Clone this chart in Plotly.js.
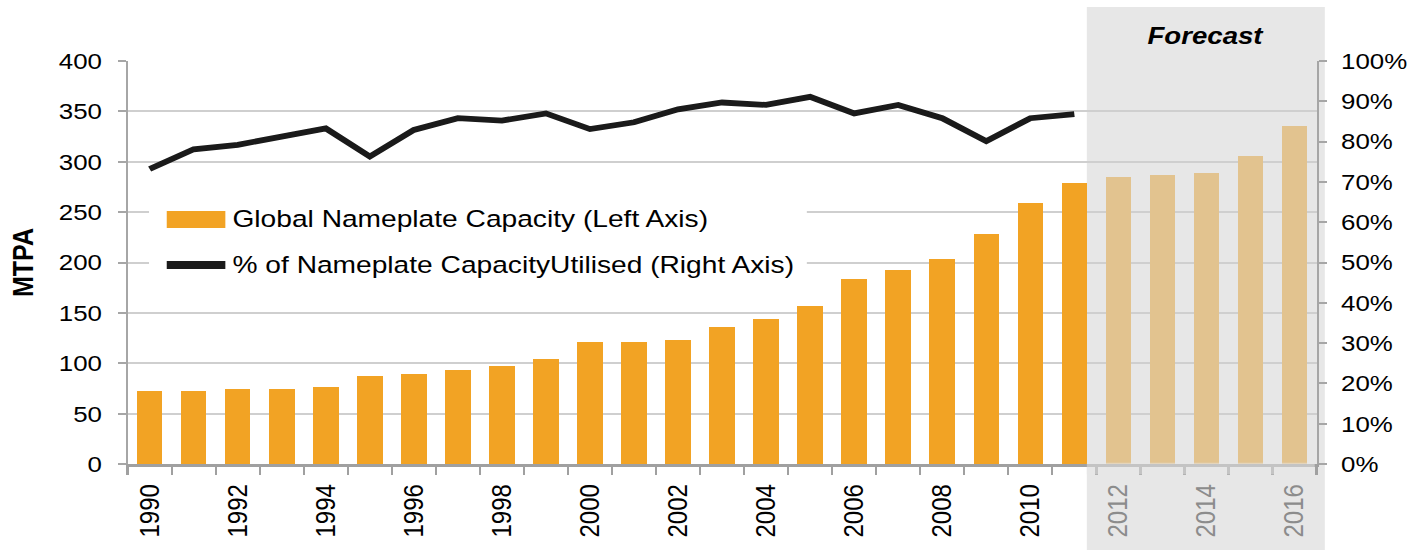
<!DOCTYPE html>
<html>
<head>
<meta charset="utf-8">
<script src="https://cdn.plot.ly/plotly-3.0.1.min.js"></script>
<style>
  html, body { margin: 0; padding: 0; overflow: hidden; background: #ffffff; }
  #chart { width: 1228px; height: 550px; transform: scaleX(1.1498); transform-origin: 0 0; }
</style>
</head>
<body>
<div id="chart"></div>
<script>
// ---- data ----
const years = [1990, 1991, 1992, 1993, 1994, 1995, 1996, 1997, 1998, 1999,
               2000, 2001, 2002, 2003, 2004, 2005, 2006, 2007, 2008, 2009,
               2010, 2011, 2012, 2013, 2014, 2015, 2016];
const capacityMTPA = [72.5, 72.5, 74.5, 74.5, 76.5, 87.5, 89.5, 93.5, 97.5, 104,
                      121, 121, 123, 135.5, 144, 157, 184, 192.5, 203, 228,
                      259.5, 278.5, 285, 287, 289, 306, 335.5];
const utilYears = [1990, 1991, 1992, 1993, 1994, 1995, 1996, 1997, 1998, 1999,
                   2000, 2001, 2002, 2003, 2004, 2005, 2006, 2007, 2008, 2009,
                   2010, 2011];
const utilisation = [0.732, 0.781, 0.792, 0.812, 0.833, 0.763, 0.829, 0.858, 0.852, 0.870,
                     0.831, 0.848, 0.880, 0.897, 0.891, 0.911, 0.870, 0.891, 0.858, 0.801,
                     0.858, 0.868];
const forecastFrom = 2012;
const xTickYears = [1990, 1992, 1994, 1996, 1998, 2000, 2002, 2004, 2006, 2008, 2010, 2012, 2014, 2016];
const legendLabels = ['Global Nameplate Capacity (Left Axis)', '% of Nameplate CapacityUtilised (Right Axis)'];
const forecastLabel = 'Forecast';
const leftAxisTitle = 'MTPA';

// ---- styles ----
const ORANGE = '#F2A324';
const TAN = '#E2C38F';
const BLACK = '#1a1a1a';
const FONT = 'Liberation Sans, Arial, sans-serif';

const barColors = years.map(y => y >= forecastFrom ? TAN : ORANGE);
const tickText = xTickYears.map(y => y >= forecastFrom
  ? '<span style="color:#8c8c8c">' + y + '</span>' : String(y));

const traces = [
  {
    type: 'bar', x: years, y: capacityMTPA, width: 0.58,
    marker: { color: barColors, line: { width: 0 } },
    name: legendLabels[0], showlegend: false, hoverinfo: 'skip'
  },
  {
    type: 'scatter', mode: 'lines', x: utilYears, y: utilisation, yaxis: 'y2',
    line: { color: BLACK, width: 5.8, shape: 'linear' },
    name: legendLabels[1], showlegend: false, hoverinfo: 'skip'
  }
];

const layout = {
  width: 1228, height: 550,
  margin: { l: 111, r: 83, t: 61, b: 86, pad: 0 },
  paper_bgcolor: 'rgba(0,0,0,0)', plot_bgcolor: 'rgba(0,0,0,0)',
  font: { family: FONT, color: '#000000', size: 22 },
  showlegend: false,
  bargap: 0,
  xaxis: {
    type: 'linear', range: [1989.5, 2016.5], fixedrange: true,
    tickmode: 'array', tickvals: xTickYears, ticktext: tickText,
    tickangle: -90, ticks: '', showgrid: false, zeroline: false,
    tickfont: { family: FONT, size: 24, color: '#000000' },
    ticklabelstandoff: 8,
    showline: true, linecolor: '#a0a0a0', linewidth: 2.5,
    minor: { tickmode: 'linear', tick0: 1989.5, dtick: 1, ticks: 'outside',
             ticklen: 8, tickwidth: 2, tickcolor: '#a0a0a0', showgrid: false }
  },
  yaxis: {
    range: [0, 400], dtick: 50, tick0: 0, fixedrange: true,
    showgrid: true, gridcolor: '#cfcfcf', gridwidth: 2, zeroline: false,
    showline: true, linecolor: '#a6a6a6', linewidth: 1.8,
    ticks: 'outside', ticklen: 7, tickwidth: 2, tickcolor: '#a6a6a6',
    tickfont: { family: FONT, size: 22.5, color: '#000000' },
    ticklabelstandoff: 9,
    title: { text: '<b>' + leftAxisTitle + '</b>', font: { family: FONT, size: 25, color: '#000000' }, standoff: 15 }
  },
  yaxis2: {
    overlaying: 'y', side: 'right', range: [0, 1], dtick: 0.1, tick0: 0,
    tickformat: '.0%', fixedrange: true,
    showgrid: false, zeroline: false,
    showline: true, linecolor: '#a6a6a6', linewidth: 1.8,
    ticks: 'outside', ticklen: 7, tickwidth: 2, tickcolor: '#a6a6a6',
    tickfont: { family: FONT, size: 22.5, color: '#000000' },
    ticklabelstandoff: 8
  },
  shapes: [
    // forecast shaded band (behind gridlines)
    { type: 'rect', xref: 'paper', yref: 'paper', x0: 0.8068, x1: 1.0070, y0: -0.2134, y1: 1.134,
      fillcolor: '#e7e7e7', line: { width: 0 }, layer: 'below' },
    // lighter axis line and ticks inside the forecast band
    { type: 'rect', xref: 'paper', yref: 'paper', x0: 0.8068, x1: 0.9985, y0: -0.026, y1: 0.0032,
      fillcolor: 'rgba(231,231,231,0.5)', line: { width: 0 }, layer: 'above' },
    // legend box
    { type: 'rect', xref: 'paper', yref: 'paper', x0: 0.018, x1: 0.5713, y0: 0.3995, y1: 0.7221,
      fillcolor: '#ffffff', line: { width: 0 }, layer: 'above' },
    // legend swatch: bars
    { type: 'rect', xref: 'paper', yref: 'paper', x0: 0.0329, x1: 0.0822, y0: 0.5856, y1: 0.6278,
      fillcolor: ORANGE, line: { width: 0 }, layer: 'above' },
    // legend swatch: line
    { type: 'line', xref: 'paper', yref: 'paper', x0: 0.0329, x1: 0.0822, y0: 0.4938, y1: 0.4938,
      line: { color: BLACK, width: 8 }, layer: 'above' }
  ],
  annotations: [
    { xref: 'paper', yref: 'paper', x: 0.0861, y: 0.608, xanchor: 'left', yanchor: 'middle',
      text: legendLabels[0], showarrow: false, font: { family: FONT, size: 24.5, color: '#000000' } },
    { xref: 'paper', yref: 'paper', x: 0.0861, y: 0.4938, xanchor: 'left', yanchor: 'middle',
      text: legendLabels[1], showarrow: false, font: { family: FONT, size: 24.5, color: '#000000' } },
    { xref: 'paper', yref: 'paper', x: 0.9069, y: 1.0645, xanchor: 'center', yanchor: 'middle',
      text: '<b><i>' + forecastLabel + '</i></b>', showarrow: false, font: { family: FONT, size: 24, color: '#000000' } }
  ]
};

Plotly.newPlot('chart', traces, layout, { displayModeBar: false, staticPlot: true });
</script>
</body>
</html>
